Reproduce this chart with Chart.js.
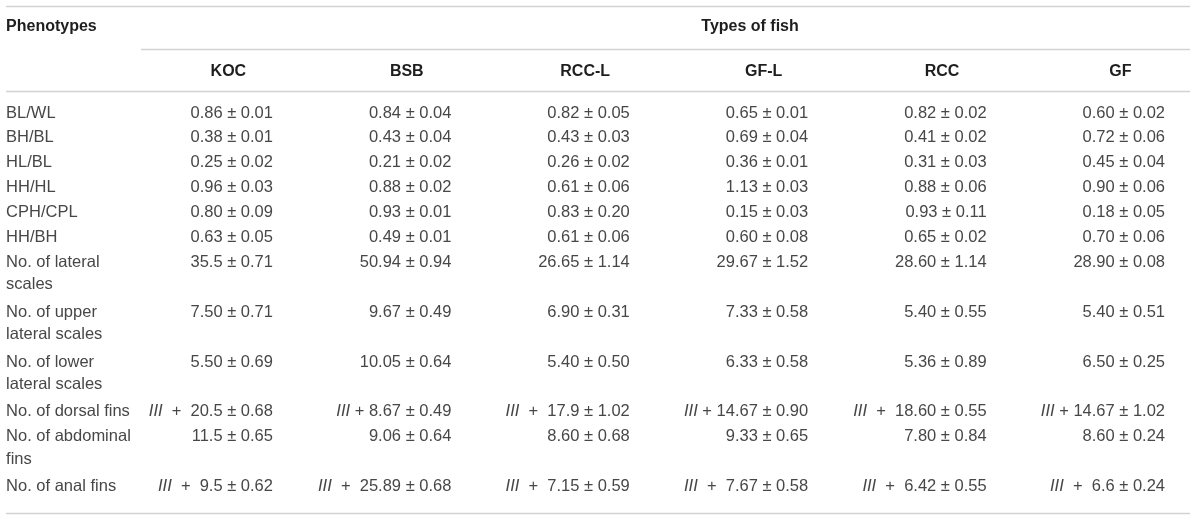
<!DOCTYPE html>
<html>
<head>
<meta charset="utf-8">
<script src="https://cdn.jsdelivr.net/npm/chart.js@4/dist/chart.umd.min.js"></script>
<style>
  html, body { margin: 0; padding: 0; background: #ffffff; }
  #wrap { width: 1200px; height: 518px; position: relative; }
</style>
</head>
<body>
<div id="wrap"><canvas id="c"></canvas></div>
<script>
// ---------------- DATA ----------------
const stubHeader = "Phenotypes";
const spanHeader = "Types of fish";
const fishTypes = ["KOC", "BSB", "RCC-L", "GF-L", "RCC", "GF"];
const phenotypes = [
  "BL/WL", "BH/BL", "HL/BL", "HH/HL", "CPH/CPL", "HH/BH",
  "No. of lateral\nscales", "No. of upper\nlateral scales", "No. of lower\nlateral scales",
  "No. of dorsal fins", "No. of abdominal\nfins", "No. of anal fins"
];
const KOC_mean  = ["0.86","0.38","0.25","0.96","0.80","0.63","35.5","7.50","5.50","20.5","11.5","9.5"];
const KOC_sd    = ["0.01","0.01","0.02","0.03","0.09","0.05","0.71","0.71","0.69","0.68","0.65","0.62"];
const BSB_mean  = ["0.84","0.43","0.21","0.88","0.93","0.49","50.94","9.67","10.05","8.67","9.06","25.89"];
const BSB_sd    = ["0.04","0.04","0.02","0.02","0.01","0.01","0.94","0.49","0.64","0.49","0.64","0.68"];
const RCCL_mean = ["0.82","0.43","0.26","0.61","0.83","0.61","26.65","6.90","5.40","17.9","8.60","7.15"];
const RCCL_sd   = ["0.05","0.03","0.02","0.06","0.20","0.06","1.14","0.31","0.50","1.02","0.68","0.59"];
const GFL_mean  = ["0.65","0.69","0.36","1.13","0.15","0.60","29.67","7.33","6.33","14.67","9.33","7.67"];
const GFL_sd    = ["0.01","0.04","0.01","0.03","0.03","0.08","1.52","0.58","0.58","0.90","0.65","0.58"];
const RCC_mean  = ["0.82","0.41","0.31","0.88","0.93","0.65","28.60","5.40","5.36","18.60","7.80","6.42"];
const RCC_sd    = ["0.02","0.02","0.03","0.06","0.11","0.02","1.14","0.55","0.89","0.55","0.84","0.55"];
const GF_mean   = ["0.60","0.72","0.45","0.90","0.18","0.70","28.90","5.40","6.50","14.67","8.60","6.6"];
const GF_sd     = ["0.02","0.06","0.04","0.06","0.05","0.06","0.08","0.51","0.25","1.02","0.24","0.24"];
// spine prefix "III +" used on fin counts (row index -> per-fish spacing: 1 = tight, 0 = wide)
const spinePrefixRows = { 9: [0, 1, 0, 1, 0, 1], 11: [0, 0, 0, 0, 0, 0] };

const means = [KOC_mean, BSB_mean, RCCL_mean, GFL_mean, RCC_mean, GF_mean];
const sds   = [KOC_sd, BSB_sd, RCCL_sd, GFL_sd, RCC_sd, GF_sd];

// ---------------- LAYOUT (scale units) ----------------
// x: column units, right edge of fish column j (1-based) sits at value j
const X_MIN = -0.53, X_MAX = 6.196;
const X_STUB = -0.496, X_RULE_R = 6.14, X_SPAN_L = 0.26, X_SPAN_C = 3.674, HEAD_SHIFT = 0.25;
// y: line units, top of canvas = 0
const Y_MAX = 20.8;
const Y_TOP_RULE = 0.24, Y_TITLE = 1.064, Y_SPAN_RULE = 1.968, Y_COLHEAD = 2.87, Y_HEAD_RULE = 3.655;
const Y_FIRST = 4.538, LINE2 = 0.9, Y_BOTTOM_PAD = 1.05;

const FONT = '"Liberation Sans", Arial, Helvetica, sans-serif';
const TEXT_COLOR = '#474747';
const HEAD_COLOR = '#1e1e1e';
const RULE_COLOR = '#d2d2d2';
const BODY_PX = 16.5;

// build points
const stubPts = [], cellPts = [], headPts = [];
headPts.push({ x: X_STUB, y: Y_TITLE, text: stubHeader, align: 'left' });
headPts.push({ x: X_SPAN_C, y: Y_TITLE, text: spanHeader, align: 'center' });
fishTypes.forEach((f, j) => headPts.push({ x: j + 1 - HEAD_SHIFT, y: Y_COLHEAD, text: f, align: 'center' }));

let cursor = Y_FIRST;
phenotypes.forEach((p, i) => {
  const lines = p.split('\n');
  lines.forEach((ln, k) => stubPts.push({ x: X_STUB, y: cursor + k * LINE2, text: ln }));
  fishTypes.forEach((f, j) => {
    const pref = spinePrefixRows[i];
    cellPts.push({
      x: j + 1, y: cursor,
      text: means[j][i] + ' \u00b1 ' + sds[j][i],
      prefix: pref ? true : false,
      tight: pref ? pref[j] === 1 : false
    });
  });
  cursor += lines.length;
});
const lastRowY = cursor - 1;
const rules = [
  { x0: X_STUB, x1: X_RULE_R, y: Y_TOP_RULE },
  { x0: X_SPAN_L, x1: X_RULE_R, y: Y_SPAN_RULE },
  { x0: X_STUB, x1: X_RULE_R, y: Y_HEAD_RULE },
  { x0: X_STUB, x1: X_RULE_R, y: lastRowY + Y_BOTTOM_PAD }
];

const tablePlugin = {
  id: 'tableText',
  beforeDatasetsDraw(chart) {
    const ctx = chart.ctx, xs = chart.scales.x, ys = chart.scales.y;
    ctx.save();
    ctx.strokeStyle = RULE_COLOR;
    ctx.lineWidth = 1.6;
    rules.forEach(r => {
      const y = Math.round(ys.getPixelForValue(r.y)) + 0.5;
      ctx.beginPath();
      ctx.moveTo(xs.getPixelForValue(r.x0), y);
      ctx.lineTo(xs.getPixelForValue(r.x1), y);
      ctx.stroke();
    });
    ctx.restore();
  },
  afterDatasetsDraw(chart) {
    const ctx = chart.ctx;
    ctx.save();
    ctx.textBaseline = 'middle';
    chart.data.datasets.forEach((ds, di) => {
      const meta = chart.getDatasetMeta(di);
      meta.data.forEach((el, k) => {
        const raw = ds.data[k];
        const px = el.x, py = el.y;
        if (ds.kind === 'head') {
          ctx.font = 'bold 16px ' + FONT;
          ctx.fillStyle = HEAD_COLOR;
          ctx.textAlign = raw.align;
          ctx.fillText(raw.text, px, py);
        } else if (ds.kind === 'stub') {
          ctx.font = BODY_PX + 'px ' + FONT;
          ctx.fillStyle = TEXT_COLOR;
          ctx.textAlign = 'left';
          ctx.fillText(raw.text, px, py);
        } else {
          ctx.font = BODY_PX + 'px ' + FONT;
          ctx.fillStyle = TEXT_COLOR;
          ctx.textAlign = 'right';
          ctx.fillText(raw.text, px, py);
          if (raw.prefix) {
            let xr = px - ctx.measureText(raw.text).width;
            const plus = raw.tight ? ' + ' : '  +  ';
            ctx.fillText(plus, xr, py);
            xr -= ctx.measureText(plus).width;
            ctx.font = 'italic ' + BODY_PX + 'px ' + FONT;
            ctx.fillText('III', xr, py);
          }
        }
      });
    });
    ctx.restore();
  }
};

new Chart(document.getElementById('c'), {
  type: 'scatter',
  data: {
    datasets: [
      { kind: 'head', data: headPts, pointRadius: 0, pointHoverRadius: 0 },
      { kind: 'stub', data: stubPts, pointRadius: 0, pointHoverRadius: 0 },
      { kind: 'cell', data: cellPts, pointRadius: 0, pointHoverRadius: 0 }
    ]
  },
  options: {
    responsive: true,
    maintainAspectRatio: false,
    animation: false,
    devicePixelRatio: 1,
    layout: { padding: 0 },
    events: [],
    plugins: { legend: { display: false }, tooltip: { enabled: false } },
    scales: {
      x: { type: 'linear', min: X_MIN, max: X_MAX, display: false },
      y: { type: 'linear', min: 0, max: Y_MAX, reverse: true, display: false }
    }
  },
  plugins: [tablePlugin]
});
</script>
</body>
</html>
